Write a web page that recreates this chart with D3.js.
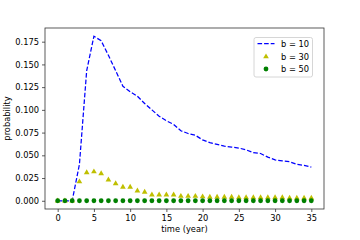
<!DOCTYPE html>
<html>
<head>
<meta charset="utf-8">
<script src="https://cdn.jsdelivr.net/npm/d3@7"></script>
<style>
  body { margin: 0; background: #fff; }
  text { font-family: "DejaVu Sans", sans-serif; fill: #000; }
</style>
</head>
<body>
<svg id="chart" width="360" height="240"></svg>
<script>
// years 0..35
var years = d3.range(0, 36);

var b10 = [0, 0, 0, 0.040, 0.143, 0.181, 0.176, 0.160, 0.143, 0.126,
  0.120, 0.115, 0.107, 0.100, 0.093, 0.088, 0.084, 0.077, 0.074, 0.072,
  0.067, 0.064, 0.062, 0.060, 0.059, 0.058, 0.056, 0.053, 0.052, 0.048,
  0.045, 0.044, 0.043, 0.040, 0.039, 0.037];

var b30 = [0, 0, 0, 0.021, 0.031, 0.032, 0.030, 0.023, 0.019, 0.015,
  0.015, 0.011, 0.0095, 0.0066, 0.0066, 0.0066, 0.0066, 0.005, 0.005, 0.005,
  0.0045, 0.004, 0.004, 0.004, 0.004, 0.0035, 0.0035, 0.0035, 0.0035, 0.0035,
  0.0035, 0.0035, 0.003, 0.003, 0.003, 0.003];

var b50 = years.map(function () { return 0; });

var xTicks = [0, 5, 10, 15, 20, 25, 30, 35];
var yTicks = [0, 0.025, 0.05, 0.075, 0.1, 0.125, 0.15, 0.175];
var labels = ["b = 10", "b = 30", "b = 50"];

var padL = 45, padR = 324, padT = 28, padB = 209;

var svg = d3.select("#chart");

var x = d3.scaleLinear().domain([-1.75, 36.75]).range([padL, padR]);
var y = d3.scaleLinear().domain([-0.00905, 0.19005]).range([padB, padT]);

// axes
var xAxis = svg.append("g")
  .attr("transform", "translate(0," + padB + ")")
  .call(d3.axisBottom(x).tickValues(xTicks).tickSize(3).tickPadding(3).tickFormat(d3.format("d")));
var yAxis = svg.append("g")
  .attr("transform", "translate(" + padL + ",0)")
  .call(d3.axisLeft(y).tickValues(yTicks).tickSize(3).tickPadding(3).tickFormat(d3.format(".3f")));

[xAxis, yAxis].forEach(function (g) {
  g.select(".domain").remove();
  g.selectAll(".tick line").attr("stroke", "#333").attr("stroke-width", 0.8);
  g.selectAll(".tick text").attr("font-size", 8.3).attr("font-family", "DejaVu Sans").attr("fill", "#000");
});

// frame
svg.append("rect")
  .attr("x", padL).attr("y", padT)
  .attr("width", padR - padL).attr("height", padB - padT)
  .attr("fill", "none").attr("stroke", "#333").attr("stroke-width", 0.8);

// b = 10 line
var line = d3.line()
  .x(function (d, i) { return x(years[i]); })
  .y(function (d) { return y(d); });

svg.append("path")
  .datum(b10)
  .attr("d", line)
  .attr("fill", "none")
  .attr("stroke", "#0000ff")
  .attr("stroke-width", 1.25)
  .attr("stroke-dasharray", "4.6,2");

// b = 30 triangles
var tri = d3.symbol().type(d3.symbolTriangle).size(14);
svg.append("g").selectAll("path")
  .data(b30).enter().append("path")
  .attr("d", tri)
  .attr("fill", "#bfbf00")
  .attr("transform", function (d, i) {
    return "translate(" + x(years[i]) + "," + y(d) + ")";
  });

// b = 50 circles
svg.append("g").selectAll("circle")
  .data(b50).enter().append("circle")
  .attr("cx", function (d, i) { return x(years[i]); })
  .attr("cy", function (d) { return y(d); })
  .attr("r", 2.4)
  .attr("fill", "#008000");

// axis labels
svg.append("text")
  .attr("x", (padL + padR) / 2).attr("y", 232)
  .attr("text-anchor", "middle").attr("font-size", 8.3)
  .text("time (year)");
svg.append("text")
  .attr("transform", "translate(10," + ((padT + padB) / 2) + ") rotate(-90)")
  .attr("text-anchor", "middle").attr("font-size", 8.3)
  .text("probability");

// legend
var lg = svg.append("g");
lg.append("rect")
  .attr("x", 254).attr("y", 37.5).attr("width", 58.5).attr("height", 39.5)
  .attr("rx", 2).attr("fill", "#fff").attr("fill-opacity", 0.8)
  .attr("stroke", "#ccc").attr("stroke-width", 0.8);
var rows = [43.7, 56.7, 69];
lg.append("line")
  .attr("x1", 257.5).attr("x2", 274.5).attr("y1", rows[0]).attr("y2", rows[0])
  .attr("stroke", "#0000ff").attr("stroke-width", 1.25).attr("stroke-dasharray", "4.6,2");
lg.append("path").attr("d", tri)
  .attr("fill", "#bfbf00")
  .attr("transform", "translate(266," + rows[1] + ")");
lg.append("circle").attr("cx", 266).attr("cy", rows[2]).attr("r", 2.4).attr("fill", "#008000");
lg.selectAll("text.lab").data(labels).enter().append("text")
  .attr("class", "lab")
  .attr("x", 281).attr("y", function (d, i) { return rows[i] + 3; })
  .attr("font-size", 8.3)
  .text(function (d) { return d; });
</script>
</body>
</html>
